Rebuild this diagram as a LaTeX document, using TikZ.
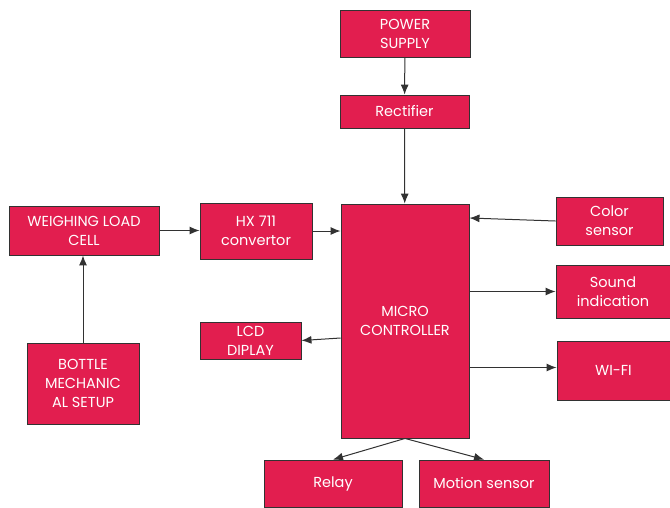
\documentclass[tikz,border=0pt]{standalone}
\usepackage{fontspec}
\setmainfont{Poppins}
\usetikzlibrary{arrows.meta}
\definecolor{crimson}{RGB}{226,30,79}
\definecolor{edge}{RGB}{50,50,50}
\tikzset{
  block/.style={draw=edge, line width=0.9pt, fill=crimson, text=white, align=center,
    inner sep=1pt, font=\fontsize{14.5}{19}\selectfont},
  arr/.style={-{Latex[length=10pt,width=8pt]}, line width=1pt, draw=edge}
}
\begin{document}
\begin{tikzpicture}[x=1pt,y=-1pt]
    % Fijar el marco
    \useasboundingbox[fill=white] (0,0) rectangle (670,507);

    % Bloques
    \node[block, minimum width=130pt, minimum height=47pt] (power) at (405,33.5) {POWER\\SUPPLY};
    \node[block, minimum width=129pt, minimum height=33pt] (rect) at (404.5,111.5) {Rectifier};
    \node[block, minimum width=128pt, minimum height=234pt] (mc) at (405,321) {MICRO\\CONTROLLER};
    \node[block, minimum width=150pt, minimum height=49pt] (load) at (84,230.5) {WEIGHING LOAD\\CELL};
    \node[block, minimum width=112pt, minimum height=56pt] (hx) at (256,231) {HX 711\\convertor};
    \node[block, minimum width=101pt, minimum height=37pt] (lcd) at (250.5,340.5) {LCD\\DIPLAY};
    \node[block, minimum width=112pt, minimum height=81pt] (bottle) at (83,383.5) {BOTTLE\\MECHANIC\\AL SETUP};
    \node[block, minimum width=107pt, minimum height=48pt] (color) at (609.5,221) {Color\\sensor};
    \node[block, minimum width=114pt, minimum height=53pt] (sound) at (613,291.5) {Sound\\indication};
    \node[block, minimum width=113pt, minimum height=59pt] (wifi) at (613.5,370.5) {WI-FI};
    \node[block, minimum width=138pt, minimum height=47pt] (relay) at (333,483.5) {Relay};
    \node[block, minimum width=130pt, minimum height=47pt] (motion) at (484,483.5) {Motion sensor};

    % Conexiones
    \draw[arr] (power) -- (rect);
    \draw[arr] (rect) -- (mc);
    \draw[arr] (load.east) -- (load.east -| hx.west);
    \draw[arr] (hx.east) -- (hx.east -| mc.west);
    \draw[arr] (bottle.north) -- (bottle.north |- load.south);
    \draw[arr] ([yshift=-17pt]mc.west) -- (lcd.east);
    \draw[arr] (color.west) -- ([yshift=103pt]mc.east);
    \draw[arr] (mc.east |- sound.west) -- (sound.west);
    \draw[arr] ([yshift=3pt]mc.east |- wifi.west) -- ([yshift=3pt]wifi.west);
    \draw[arr] (mc.south) -- (relay.north);
    \draw[arr] (mc.south) -- (motion.north);
\end{tikzpicture}
\end{document}
